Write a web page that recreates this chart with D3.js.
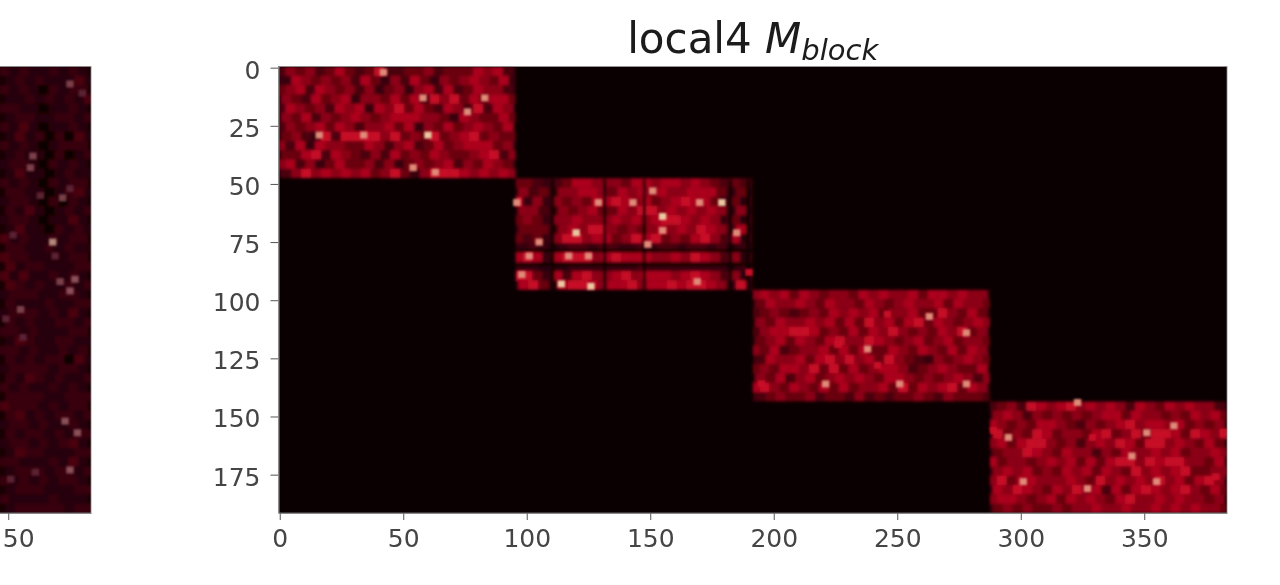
<!DOCTYPE html>
<html><head><meta charset="utf-8">
<script src="https://cdn.jsdelivr.net/npm/d3@7"></script>
<style>html,body{margin:0;padding:0;background:#fff;overflow:hidden}svg{display:block}</style>
</head><body><svg id="c" width="1280" height="585"></svg>
<script>
// All values below are visual estimates read from zoomed crops of a blurred picture.
// The original single-cell values are not legible, so each block is stored as coarse 4x4-unit averages.
const xTicks = [0,50,100,150,200,250,300,350];
const yTicks = [0,25,50,75,100,125,150,175];
const leftTick = [350];
const leftTickLabel = "50";
const titleMain = "local4 ";
const titleVar = "M";
const titleSub = "block";
const cellSize = 4;
const blockOrigins = [[0,0],[96,48],[192,96],[288,144]];
const block1 = ["354534643473344534446563","265454536425364254565462","456365453524525636346553","543645625546463757464664","365453656265746436537365","546354565456665542654464","354564653556462546456546","453283789758454945674544","536265544653563464566645","446736543536454654456735","563524644535245456354654","357565656457425788656565"];
const block2 = ["443234665554665665654343","534255665465656556664241","825254546686564567664241","553254564465875656565251","454255655565656876565241","444256587545456565865361","434257756645867454675361","232123323322323323323121","686267875676665565765351","221112222222322222222121","784263675567566656765351","684267865667566767765291"];
const block3 = ["565646545546565564665655","465565465546545655646554","345434546565645564485464","546556564647564674654565","356677645464657545465845","456465467557654564564554","546345564646446546546465","365564675756475432545654","454665748464566534565446","546356456565466545456535","675465464645564746567465","345445344353434454354443"];
const block4 = ["345376567565653654656553","565354545456646554546564","654546654354567566564545","745476455467457487648657","564678545356576478565464","455865465535465565645565","645545656464677576785546","565645465646548565674455","574665556547565657564675","658654658563646865675464","566545646565467556565545","454544545565565565656554"];
const leftOrigin = [348,0];
const leftPanel = ["212112121","121211131","212102122","112121213","221101121","122112212","213101121","131202031","212101222","121102012","122102121","131101211","212102122","221101231","122102021","213101212","122101131","131102121","312112122","221121211","322111122","312211122","313112121","321211212","122211221","211121122","122212131","212112212","221211122","132112211","221211212","212122031","122221221","213212112","212112121","222211222","322212122","231212212","122121121","212212122","122121231","132211122","221112131","122212212","212121221","122211122","211112111","122222122"];
const spots = [[42,2,8],[34,29,8],[60,29,9],[16,29,8],[58,13,8],[76,19,8],[83,13,8],[63,45,8],[54,43,8],
 [96,58,8],[129,58,8],[143,58,8],[151,53,8],[170,58,8],[179,58,9],[155,64,9],[120,71,9],[155,70,8],[185,71,8],[149,76,8],[105,75,8],[101,81,8],[117,81,8],[125,81,8],[114,93,9],[126,94,9],[169,92,8],[98,89,8],[190,88,7],
 [263,107,8],[278,114,8],[226,119,7],[246,106,7],[238,121,8],[242,128,7],[221,136,8],[251,136,8],[278,136,8],[195,136,7],
 [323,144,8],[295,159,8],[362,154,8],[351,157,8],[345,167,8],[329,159,7],[301,178,8],[355,178,8],[327,181,8],[379,176,7],[289,156,7],[382,157,7]];
const leftSpots = [[375,7,6],[380,11,5],[360,38,6],[359,43,6],[363,55,5],[372,56,6],[375,52,5],[368,75,8],[369,81,5],[371,92,6],[377,91,7],[352,72,5],[375,96,7],[355,104,6],[349,108,5],[356,116,5],[373,152,7],[378,157,7],[375,173,7],[351,177,5],[361,174,5]];
const darkCols = [110,131,147,182,189];
const darkRows = [78,84];
const colorStops = ["#0a0002","#260007","#38000a","#4c000c","#6a0010","#8c0014","#ac041a","#c80e26","#e08a78","#ecc8a0"];
const maxCellLevel = 7;
const underlay = "#3a000a";
const leftUnderlay = "#180004";
const leftSpotColor = ["#5a2030","#7a4048","#8a5058","#b08878"];

const color = d3.scaleLinear().domain(d3.range(10)).range(colorStops);
const leftSpotScale = d3.scaleQuantize().domain([5,8]).range(leftSpotColor);
const x = d3.scaleLinear().domain([-0.5,383.5]).range([278.5,1227]);
const xL = d3.scaleLinear().domain([-0.5,383.5]).range([-857.5,91]);
const y = d3.scaleLinear().domain([-0.5,191.5]).range([66.5,513]);

const svg = d3.select("#c");
const defs = svg.append("defs");
defs.append("filter").attr("id","b1").attr("x","-5%").attr("y","-5%").attr("width","110%").attr("height","110%")
  .append("feGaussianBlur").attr("stdDeviation",1.7);
defs.append("filter").attr("id","b3").attr("x","-5%").attr("y","-5%").attr("width","110%").attr("height","110%")
  .append("feGaussianBlur").attr("stdDeviation",0.9);
defs.append("filter").attr("id","b2").attr("x","-50%").attr("y","-50%").attr("width","200%").attr("height","200%")
  .append("feGaussianBlur").attr("stdDeviation",0.65);
defs.append("clipPath").attr("id","cm").append("rect").attr("x",x(-0.5)).attr("y",y(-0.5)).attr("width",x(383.5)-x(-0.5)).attr("height",y(191.5)-y(-0.5));
defs.append("clipPath").attr("id","cl").append("rect").attr("x",0).attr("y",y(-0.5)).attr("width",xL(383.5)).attr("height",y(191.5)-y(-0.5));
const blockClip = defs.append("clipPath").attr("id","cb");
blockOrigins.forEach(o=>blockClip.append("rect").attr("x",x(o[0]-0.5)).attr("y",y(o[1]-0.5)).attr("width",x(96)-x(0)).attr("height",y(48)-y(0)));

function cells(rows,ox,oy){
  const out=[];
  rows.forEach((r,i)=>[...r].forEach((d,j)=>out.push({c:ox+j*cellSize,r:oy+i*cellSize,v:+d,i})));
  return out;
}
function drawCells(g,sx,data){
  g.selectAll("rect.cell").data(data).join("rect").attr("class","cell")
    .attr("x",d=>sx(d.c-0.5+(d.i%2?1.2:-1.2)))
    .attr("y",d=>y(d.r-0.5))
    .attr("width",sx(cellSize)-sx(0)+0.2)
    .attr("height",y(cellSize)-y(0)+0.2)
    .attr("fill",d=>color(Math.min(d.v,maxCellLevel)));
}
const axH = y(191.5)-y(-0.5);

// left panel (cropped by the picture's edge)
{
  const outer = svg.append("g").attr("clip-path","url(#cl)");
  outer.append("rect").attr("x",0).attr("y",y(-0.5)).attr("width",xL(383.5)).attr("height",axH).attr("fill",leftUnderlay);
  const g = outer.append("g").attr("filter","url(#b1)");
  drawCells(g,xL,cells(leftPanel,leftOrigin[0],leftOrigin[1]));
  outer.append("g").attr("filter","url(#b3)").selectAll("rect.spot").data(leftSpots).join("rect").attr("class","spot")
    .attr("x",d=>xL(d[0]-1.5)).attr("y",d=>y(d[1]-1.5)).attr("width",xL(3)-xL(0)).attr("height",y(3)-y(0))
    .attr("fill",d=>leftSpotScale(d[2]));
}
// main panel
{
  const outer = svg.append("g").attr("clip-path","url(#cm)");
  outer.append("rect").attr("x",x(-0.5)).attr("y",y(-0.5)).attr("width",x(383.5)-x(-0.5)).attr("height",axH).attr("fill",colorStops[0]);
  const f = outer.append("g").attr("filter","url(#b1)");
  const g = f.append("g").attr("clip-path","url(#cb)");
  g.selectAll("rect.under").data(blockOrigins).join("rect").attr("class","under")
    .attr("x",d=>x(d[0]-0.5)).attr("y",d=>y(d[1]-0.5)).attr("width",x(96)-x(0)).attr("height",y(48)-y(0)).attr("fill",underlay);
  drawCells(g,x,[block1,block2,block3,block4].flatMap((b,i)=>cells(b,blockOrigins[i][0],blockOrigins[i][1])));
  g.selectAll("rect.dc").data(darkCols).join("rect").attr("class","dc")
    .attr("x",d=>x(d)).attr("y",y(48)).attr("width",x(1.2)-x(0)).attr("height",y(96)-y(48)).attr("fill",colorStops[0]);
  g.selectAll("rect.dr").data(darkRows).join("rect").attr("class","dr")
    .attr("x",x(96)).attr("y",d=>y(d)).attr("width",x(192)-x(96)).attr("height",y(1.2)-y(0)).attr("fill",colorStops[0]);
  const s = outer.append("g").attr("filter","url(#b3)");
  s.selectAll("rect.spot").data(spots).join("rect").attr("class","spot")
    .attr("x",d=>x(d[0]-1.5)).attr("y",d=>y(d[1]-1.5)).attr("width",x(3)-x(0)).attr("height",y(3)-y(0))
    .attr("fill",d=>color(d[2]));
}

const text = svg.append("g").attr("filter","url(#b2)");
function styleAxis(g){
  g.select(".domain").attr("stroke","#888").attr("stroke-width",1);
  g.selectAll(".tick line").attr("stroke","#555");
  g.selectAll(".tick text").attr("fill","#444").attr("font-family","DejaVu Sans").attr("font-size",25);
}
const xAxis = d3.axisBottom(x).tickValues(xTicks).tickSize(7).tickSizeOuter(0).tickPadding(9);
const yAxis = d3.axisLeft(y).tickValues(yTicks).tickSize(8).tickSizeOuter(0).tickPadding(10);
text.append("g").attr("transform",`translate(0,${y(191.5)})`).call(xAxis).call(styleAxis);
text.append("g").attr("transform",`translate(${x(-0.5)},0)`).call(yAxis).call(styleAxis)
  .selectAll(".tick text").attr("dy","0.42em");
const leftAxis = text.append("g").attr("transform",`translate(0,${y(191.5)})`)
  .call(d3.axisBottom(xL).tickValues(leftTick).tickFormat(()=>leftTickLabel).tickSize(7).tickSizeOuter(0).tickPadding(9)).call(styleAxis);
leftAxis.select(".tick text").attr("text-anchor","start").attr("x",-6);
// thin frame of the main panel, and the visible sides of the cropped panel
text.append("rect").attr("x",x(-0.5)).attr("y",y(-0.5)).attr("width",x(383.5)-x(-0.5)).attr("height",axH).attr("fill","none").attr("stroke","#888").attr("stroke-width",0.8);
text.append("rect").attr("x",-3).attr("y",y(-0.5)).attr("width",xL(383.5)+3).attr("height",axH).attr("fill","none").attr("stroke","#888").attr("stroke-width",0.8);

const t = text.append("text").attr("x",x(191.5)).attr("y",53).attr("text-anchor","middle").attr("fill","#1a1a1a").attr("font-family","DejaVu Sans").attr("font-size",42);
t.append("tspan").text(titleMain);
t.append("tspan").attr("font-style","italic").text(titleVar);
t.append("tspan").attr("font-style","italic").attr("font-size",29).attr("dy",7).text(titleSub);
</script></body></html>
